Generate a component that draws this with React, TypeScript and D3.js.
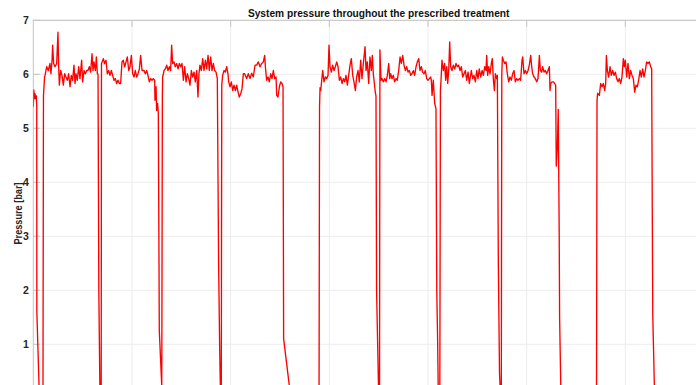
import React from "react";
import * as d3 from "d3";

const chartTitle = "System pressure throughout the prescribed treatment";
const yLabel = "Pressure [bar]";
const yTicks = [1, 2, 3, 4, 5, 6, 7];
const xGrid = [100, 200, 300, 400, 500, 600];

// time [min], pressure [bar]
const startup: [number, number][] = [
  [0, 5.4], [0.5, 5.71], [1.2, 5.55], [1.7, 5.64], [2.4, 5.55], [3.1, 5.6], [3.5, 5.4],
  [3.6, 1.6], [6.2, 0], [9.8, 0], [10.3, 5.6], [11.4, 5.95],
];
const run1: [number, number][] = [
  [11.9, 5.98], [13.6, 6.14], [15.2, 6.07], [16.9, 6.2], [17.9, 6.01], [19.0, 6.26], [19.6, 6.54],
  [20.6, 6.2], [22.0, 6.14], [23.7, 6.2], [25.0, 6.78], [25.7, 6.14], [26.4, 5.8], [27.7, 6.07],
  [29.1, 5.98], [30.4, 5.8], [31.8, 6.01], [33.1, 5.95], [34.5, 5.89], [35.8, 6.01], [37.2, 5.77],
  [38.5, 5.98], [39.9, 5.89], [41.2, 6.17], [42.3, 5.83], [43.3, 6.01], [44.6, 5.89], [46.0, 6.14],
  [47.3, 5.92], [49.0, 6.26], [50.0, 5.86], [51.4, 6.07], [52.7, 6.01], [54.1, 6.07], [55.4, 6.07],
  [56.8, 6.14], [58.1, 6.04], [59.5, 6.38], [60.5, 6.07], [61.5, 6.23], [62.9, 6.07], [63.9, 6.32],
  [64.9, 6.01], [65.6, 6.0], [66.4, 2.0], [67.6, 0], [68.8, 0], [69.1, 6.2],
];
const run2: [number, number][] = [
  [71.0, 6.29], [72.3, 6.2], [73.7, 6.26], [75.0, 6.01], [76.4, 6.07], [77.7, 5.98], [79.1, 6.07],
  [80.4, 5.98], [81.8, 5.89], [83.1, 5.92], [84.5, 5.83], [85.8, 5.89], [87.2, 5.83], [88.5, 5.83],
  [89.9, 6.23], [91.2, 6.26], [92.6, 6.14], [94.0, 6.23], [95.3, 6.32], [96.7, 6.07], [98.0, 6.14],
  [99.4, 6.35], [100.7, 6.01], [102.1, 5.95], [103.4, 6.07], [104.8, 5.95], [106.1, 6.01], [107.5, 6.1],
  [108.8, 6.35], [110.2, 6.07], [112.2, 6.07], [113.5, 6.01], [114.9, 6.07], [116.2, 5.98], [117.6, 5.86],
  [119.0, 5.92], [120.3, 5.89], [121.6, 5.92], [123.0, 5.89], [123.3, 5.52], [124.4, 5.77], [125.0, 5.33],
  [126.0, 5.46], [126.7, 5.27], [127.7, 1.25], [130.2, 0.22], [130.8, 5.6],
];
const run3: [number, number][] = [
  [131.1, 5.95], [132.5, 6.07], [133.8, 6.1], [135.2, 6.17], [136.5, 6.07], [137.9, 6.14], [139.2, 6.07],
  [140.2, 6.54], [141.2, 6.2], [142.6, 6.23], [143.9, 6.14], [145.3, 6.2], [146.7, 6.1], [148.0, 6.2],
  [149.4, 6.14], [150.7, 6.2], [152.1, 5.89], [153.4, 6.14], [154.8, 5.86], [156.1, 6.01], [157.5, 5.92],
  [158.8, 5.8], [160.2, 6.07], [161.5, 5.95], [162.9, 6.04], [164.2, 5.86], [165.6, 6.07], [166.9, 5.58],
  [167.9, 6.01], [168.9, 6.17], [170.3, 6.07], [171.7, 6.29], [173.0, 6.07], [174.4, 6.26], [175.7, 6.1],
  [177.1, 6.35], [178.4, 6.07], [179.8, 6.32], [181.1, 6.07], [182.5, 6.2], [183.8, 6.07], [185.2, 6.04],
  [186.5, 5.92], [187.8, 2.5], [188.9, 0.9], [189.8, 0], [190.5, 0], [191.0, 5.8],
];
const run4: [number, number][] = [
  [191.9, 5.98], [193.3, 6.07], [194.6, 6.04], [196.0, 6.14], [197.3, 6.01], [198.0, 5.86], [199.4, 5.77],
  [200.7, 5.86], [202.1, 5.7], [203.4, 5.8], [204.8, 5.7], [206.1, 5.8], [207.5, 5.67], [208.8, 5.58],
  [210.2, 5.64], [211.5, 5.73], [212.9, 6.01], [214.2, 6.01], [216.2, 5.92], [217.9, 6.01], [219.6, 5.92],
  [221.3, 6.02], [223.0, 5.95], [224.7, 6.17], [226.4, 6.17], [228.1, 6.23], [229.8, 6.14], [231.5, 6.2],
  [233.1, 6.23], [234.5, 6.35], [235.2, 6.14], [236.5, 5.89], [237.9, 5.95], [239.2, 5.86], [240.6, 6.01],
  [241.9, 5.92], [243.3, 6.07], [244.6, 5.92], [246.0, 5.95], [246.7, 5.61], [248.0, 5.58], [249.4, 5.77],
  [250.7, 5.86], [252.1, 5.83], [253.1, 5.77], [253.7, 1.1], [259.7, 0.2], [260.4, 0], [289.6, 0],
  [290.1, 5.4], [290.6, 5.75],
];
const run5: [number, number][] = [
  [291.3, 5.7], [292.3, 5.89], [293.3, 6.07], [294.6, 5.86], [296.0, 5.95], [297.3, 5.92], [298.7, 5.98],
  [299.7, 6.54], [300.7, 6.14], [302.1, 6.04], [303.4, 6.17], [304.8, 6.07], [306.1, 6.14], [307.5, 6.23],
  [308.8, 6.14], [310.2, 5.89], [311.5, 5.95], [312.9, 5.83], [314.2, 5.92], [315.6, 5.86], [316.9, 5.98],
  [318.3, 5.8], [319.6, 5.98], [321.0, 6.17], [322.3, 6.29], [323.7, 5.98], [325.0, 5.86], [326.4, 5.7],
  [327.7, 5.95], [329.1, 6.07], [330.4, 5.86], [331.8, 6.26], [333.1, 5.92], [334.5, 6.2], [336.2, 6.51],
  [337.2, 6.07], [338.5, 6.23], [339.9, 5.83], [341.2, 6.32], [342.6, 6.07], [343.6, 6.35], [344.6, 6.01],
  [346.0, 5.77], [346.6, 5.67], [347.3, 5.6], [347.9, 2.0], [349.8, 0.25], [350.2, 0.1], [350.9, 0.1],
  [351.3, 6.45],
];
const run6: [number, number][] = [
  [352.4, 5.89], [353.4, 5.92], [354.8, 5.86], [356.1, 5.92], [357.5, 5.86], [358.8, 5.98], [360.2, 6.2],
  [361.2, 5.92], [362.2, 6.01], [363.5, 5.92], [364.9, 5.98], [366.2, 5.86], [367.6, 5.92], [368.9, 5.89],
  [370.3, 6.07], [371.7, 6.32], [373.0, 6.2], [374.4, 6.35], [375.7, 6.17], [377.1, 6.07], [378.4, 6.14],
  [379.8, 6.04], [381.1, 6.07], [382.5, 5.98], [383.8, 6.01], [385.2, 6.07], [386.5, 5.98], [387.9, 6.14],
  [389.2, 6.23], [390.6, 6.29], [391.9, 6.07], [393.3, 6.14], [394.6, 6.04], [396.0, 6.01], [397.3, 6.07],
  [398.7, 5.92], [400.0, 5.89], [401.4, 5.92], [402.7, 5.95], [403.4, 5.89], [404.1, 5.61], [405.4, 5.89],
  [406.8, 5.46], [408.1, 5.36], [408.9, 2.0], [409.8, 1.05], [410.4, 0.1], [412.0, 0.1], [412.6, 5.7],
];
const run7: [number, number][] = [
  [413.2, 5.89], [414.2, 6.26], [415.6, 6.07], [416.9, 6.2], [417.9, 5.89], [419.0, 6.14], [420.0, 5.83],
  [421.0, 6.07], [422.0, 6.6], [423.0, 6.14], [424.3, 6.07], [425.7, 6.17], [427.1, 6.1], [428.4, 6.2],
  [429.8, 6.14], [431.1, 6.17], [432.5, 6.07], [433.8, 6.14], [435.2, 5.95], [436.5, 6.01], [437.9, 6.07],
  [439.2, 5.89], [440.6, 6.04], [441.9, 5.83], [443.9, 6.07], [445.3, 5.92], [446.6, 5.98], [448.0, 5.86],
  [449.4, 6.07], [450.7, 5.92], [452.0, 6.1], [453.4, 5.95], [454.8, 6.07], [456.1, 5.98], [457.5, 6.14],
  [458.8, 6.07], [459.5, 6.35], [460.5, 5.98], [461.5, 6.14], [462.9, 6.01], [464.2, 6.2], [465.2, 6.29],
  [466.2, 5.92], [467.3, 5.7], [468.3, 6.01], [469.6, 5.92], [470.3, 5.98], [471.3, 2.5], [472.5, 0.45],
  [473.5, 0.05], [474.3, 0.05], [474.8, 6.0],
];
const run8: [number, number][] = [
  [475.4, 6.32], [476.4, 6.26], [477.7, 6.2], [479.1, 6.23], [480.4, 6.01], [481.8, 5.86], [483.1, 5.95],
  [484.5, 5.89], [485.8, 6.01], [487.2, 6.07], [488.5, 5.86], [489.9, 5.92], [491.2, 5.89], [492.6, 5.92],
  [493.9, 5.89], [495.3, 6.26], [496.0, 6.32], [497.3, 6.01], [498.7, 6.07], [500.0, 6.01], [501.4, 6.07],
  [502.7, 6.17], [504.1, 6.35], [505.1, 6.14], [506.1, 6.01], [507.5, 5.95], [508.8, 5.92], [510.2, 5.86],
  [511.5, 5.92], [512.9, 6.35], [513.9, 6.07], [515.2, 6.04], [516.2, 6.14], [517.6, 6.04], [518.9, 6.07],
  [520.3, 6.01], [521.6, 6.07], [523.0, 6.14], [523.7, 5.7], [524.4, 5.83], [525.7, 5.86], [527.1, 5.86],
  [528.4, 5.83], [529.4, 5.8], [530.0, 4.3], [531.2, 4.7], [532.0, 5.35], [533.0, 3.0], [533.4, 1.5],
  [534.6, 0.2], [535.0, 0], [570.8, 0], [571.3, 5.5], [571.9, 5.65],
];
const run9: [number, number][] = [
  [573.7, 5.61], [575.0, 5.83], [576.4, 5.77], [577.7, 5.83], [579.1, 5.7], [580.1, 5.83], [580.8, 6.35],
  [581.8, 6.07], [583.1, 5.95], [584.5, 6.14], [585.8, 5.98], [587.2, 6.07], [588.5, 5.98], [589.9, 6.04],
  [591.2, 5.92], [592.6, 5.86], [593.9, 5.92], [595.3, 5.83], [596.6, 5.95], [598.0, 6.29], [599.0, 6.14],
  [600.0, 6.26], [601.4, 5.95], [602.7, 6.2], [604.1, 5.92], [605.4, 6.07], [606.8, 5.98], [608.1, 5.92],
  [609.5, 5.67], [610.8, 5.8], [612.2, 5.77], [613.5, 5.89], [614.9, 6.07], [616.2, 5.95], [617.6, 6.1],
  [618.9, 5.95], [620.3, 6.07], [621.6, 6.23], [623.0, 6.2], [624.3, 6.23], [625.7, 6.14], [626.7, 6.1],
  [627.3, 3.5], [627.8, 1.55], [629.7, 0], [700, 0],
];

const trace = [...startup, ...run1, ...run2, ...run3, ...run4, ...run5, ...run6, ...run7, ...run8, ...run9];

const W = 740;
const H = 430;
const M = { left: 33.3, top: 20.3, right: 724, bottom: 398.3 };

export default function App() {
  const x = d3.scaleLinear().domain([0, 700]).range([M.left, M.right]);
  const y = d3.scaleLinear().domain([0, 7]).range([M.bottom, M.top]);
  const line = d3
    .line<[number, number]>()
    .x((d) => x(d[0]))
    .y((d) => y(d[1]));
  const font = "'Liberation Sans', Arial, Helvetica, sans-serif";
  const textCol = "#262626";
  const axisCol = "#c4c4c4";
  const gridCol = "#ededed";
  return (
    <div style={{ position: "fixed", left: 0, top: 0, width: 696, height: 385, overflow: "hidden", background: "#fff" }}>
      <svg width={W} height={H} style={{ display: "block" }}>
        <defs>
          <clipPath id="plotClip">
            <rect x={M.left} y={M.top} width={M.right - M.left} height={M.bottom - M.top} />
          </clipPath>
        </defs>
        {xGrid.map((t) => (
          <line key={"gx" + t} x1={x(t)} x2={x(t)} y1={M.top} y2={M.bottom} stroke={gridCol} strokeWidth={1} />
        ))}
        {yTicks.map((v) => (
          <line key={"gy" + v} x1={M.left} x2={M.right} y1={y(v)} y2={y(v)} stroke={gridCol} strokeWidth={1} />
        ))}
        <rect x={M.left} y={M.top} width={M.right - M.left} height={M.bottom - M.top} fill="none" stroke={axisCol} strokeWidth={1} />
        {xGrid.map((t) => (
          <line key={"tx" + t} x1={x(t)} x2={x(t)} y1={M.top} y2={M.top + 6.5} stroke={axisCol} strokeWidth={1} />
        ))}
        {yTicks.map((v) => (
          <line key={"ty" + v} x1={M.left} x2={M.left + 6.5} y1={y(v)} y2={y(v)} stroke={axisCol} strokeWidth={1} />
        ))}
        <g clipPath="url(#plotClip)">
          <path d={line(trace) || ""} fill="none" stroke="#ff0000" strokeWidth={1.35} strokeLinejoin="round" />
        </g>
        {yTicks.map((v) => (
          <text key={"ly" + v} x={M.left - 4.5} y={y(v)} dy="0.35em" textAnchor="end" fontFamily={font} fontWeight="bold" fontSize={10.5} fill={textCol}>
            {v}
          </text>
        ))}
        <text
          transform={`translate(${22},${213.5}) rotate(-90)`}
          textAnchor="middle"
          fontFamily={font}
          fontWeight="bold"
          fontSize={10.5}
          textLength={62}
          lengthAdjust="spacingAndGlyphs"
          fill={textCol}
        >
          {yLabel}
        </text>
        <text x={(M.left + M.right) / 2} y={17.2} textAnchor="middle" fontFamily={font} fontWeight="bold" fontSize={10.2} fill={"#111"}>
          {chartTitle}
        </text>
      </svg>
    </div>
  );
}
